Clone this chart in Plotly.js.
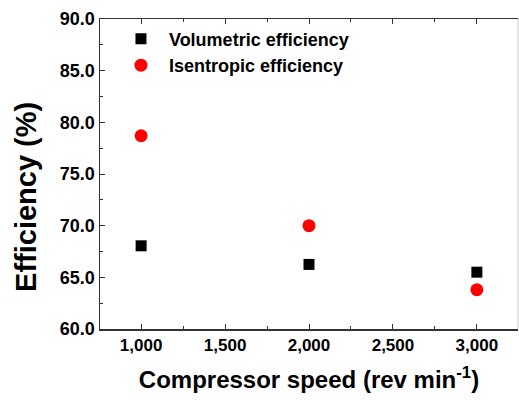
<!DOCTYPE html>
<html>
<head>
<meta charset="utf-8">
<script src="https://cdn.plot.ly/plotly-3.0.1.min.js"></script>
<style>html,body{margin:0;padding:0;background:#fff;}#chart{width:519px;height:400px;}</style>
</head>
<body>
<div id="chart"></div>
<script>
var speeds = [1000, 2000, 3000];
var volumetric = [68.05, 66.25, 65.5];
var isentropic = [78.7, 70.0, 63.8];
var seriesNames = ["Volumetric efficiency", "Isentropic efficiency"];
var xTitle = "Compressor speed (rev min<sup>-1</sup>)";
var yTitle = "Efficiency (%)";

var F = "Liberation Sans, Arial, sans-serif";
var traces = [
  {x: speeds, y: volumetric, name: seriesNames[0], mode: "markers", type: "scatter",
   marker: {symbol: "square", size: 11, color: "#000"}},
  {x: speeds, y: isentropic, name: seriesNames[1], mode: "markers", type: "scatter",
   marker: {symbol: "circle", size: 13, color: "#ff0000"}}
];
var layout = {
  width: 519, height: 400,
  margin: {l: 100, r: 1, t: 19, b: 71},
  paper_bgcolor: "#fff", plot_bgcolor: "#fff",
  showlegend: true,
  legend: {x: 0.031, y: 0.995, xanchor: "left", yanchor: "top", bgcolor: "rgba(0,0,0,0)",
           font: {family: F, size: 18, color: "#000", weight: "bold"}, itemwidth: 46, tracegroupgap: 0},
  xaxis: {range: [755, 3245], tickvals: [1000,1500,2000,2500,3000], tickformat: ",d",
          ticks: "inside", ticklen: 5, tickwidth: 1, tickcolor: "#333",
          showline: true, linecolor: "#333", linewidth: 1.5, mirror: "ticks",
          showgrid: false, zeroline: false,
          minor: {dtick: 250, tick0: 0, ticks: "inside", ticklen: 3, tickcolor: "#333", showgrid: false},
          tickfont: {family: F, size: 17, color: "#000", weight: "bold"},
          title: {text: xTitle, font: {family: F, size: 24, color: "#000", weight: "bold"}, standoff: 17}},
  yaxis: {range: [60, 90], tickvals: [60,65,70,75,80,85,90], tickformat: ".1f",
          ticks: "inside", ticklen: 5, tickwidth: 1, tickcolor: "#333",
          showline: true, linecolor: "#333", linewidth: 1.5, mirror: false,
          showgrid: false, zeroline: false,
          minor: {dtick: 2.5, tick0: 0, ticks: "inside", ticklen: 3, tickcolor: "#333", showgrid: false},
          tickfont: {family: F, size: 18, color: "#000", weight: "bold"}},
  annotations: [{text: yTitle, xref: "paper", yref: "paper", x: -0.177, y: 0.426,
                 xanchor: "center", yanchor: "middle", textangle: -90, showarrow: false,
                 font: {family: F, size: 29, color: "#000", weight: "bold"}}],
  shapes: [{type: "line", xref: "paper", yref: "paper", x0: 1, x1: 1, y0: 0, y1: 1,
            line: {color: "#cccccc", width: 1}}]
};
Plotly.newPlot("chart", traces, layout, {displayModeBar: false, staticPlot: true});
</script>
</body>
</html>
